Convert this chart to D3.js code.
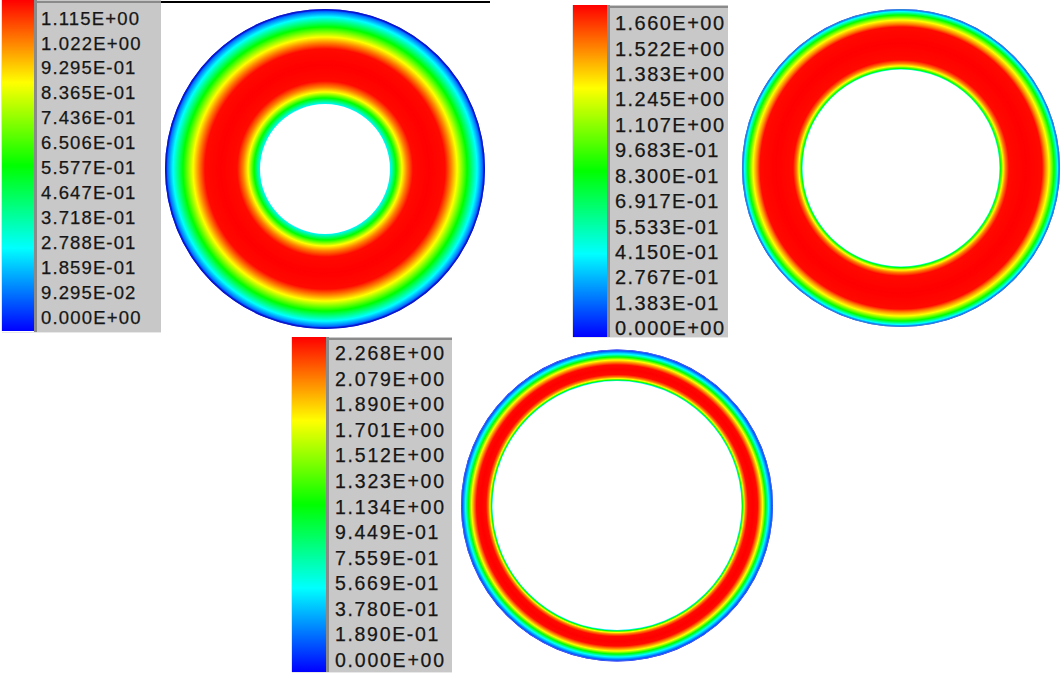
<!DOCTYPE html>
<html>
<head>
<meta charset="utf-8">
<script src="https://cdn.jsdelivr.net/npm/d3@7"></script>
<style>
  html, body { margin: 0; padding: 0; background: #ffffff; }
  svg { display: block; }
</style>
</head>
<body>
<svg id="fig" width="1062" height="675"></svg>
<script>
// ---- Legend levels (contour values printed on each colour bar) ----
const levels1 = ["1.115E+00", "1.022E+00", "9.295E-01", "8.365E-01", "7.436E-01", "6.506E-01",
                 "5.577E-01", "4.647E-01", "3.718E-01", "2.788E-01", "1.859E-01", "9.295E-02", "0.000E+00"];
const levels2 = ["1.660E+00", "1.522E+00", "1.383E+00", "1.245E+00", "1.107E+00", "9.683E-01",
                 "8.300E-01", "6.917E-01", "5.533E-01", "4.150E-01", "2.767E-01", "1.383E-01", "0.000E+00"];
const levels3 = ["2.268E+00", "2.079E+00", "1.890E+00", "1.701E+00", "1.512E+00", "1.323E+00",
                 "1.134E+00", "9.449E-01", "7.559E-01", "5.669E-01", "3.780E-01", "1.890E-01", "0.000E+00"];

// ---- Radial profiles across the annular gap ----
// xi: 0 at the inner wall, 1 at the outer wall; u: field value at that radius
const xi1 = [0.000, 0.063, 0.126, 0.179, 0.242, 0.411, 0.579, 0.642, 0.705, 0.811, 0.916, 0.968, 1.000];
const u1  = [0.268, 0.558, 0.836, 0.976, 1.104, 1.115, 1.104, 0.976, 0.836, 0.558, 0.279, 0.134, 0.000];

const xi2 = [0.000, 0.017, 0.058, 0.099, 0.157, 0.438, 0.702, 0.752, 0.818, 0.901, 0.959, 0.983, 1.000];
const u2  = [0.500, 0.830, 1.245, 1.453, 1.643, 1.660, 1.643, 1.453, 1.245, 0.830, 0.415, 0.199, 0.060];

const xi3 = [0.000, 0.032, 0.079, 0.127, 0.206, 0.365, 0.508, 0.587, 0.667, 0.762, 0.857, 0.937, 1.000];
const u3  = [0.520, 1.134, 1.701, 1.985, 2.245, 2.268, 2.245, 1.985, 1.701, 1.134, 0.567, 0.272, 0.000];

// ---- Rainbow colour map on a normalised value ----
const rainbowStops = [0, 0.25, 0.5, 0.75, 1];
const rainbow = d3.scaleLinear()
  .domain(rainbowStops)
  .range(["#0000ff", "#00ffff", "#00ff00", "#ffff00", "#ff0000"])
  .clamp(true);

// ---- Panel layout ----
// label.width: drawn width of the widest (E+00) label; others keep the same stretch
const panels = [
  { id: "p1", levels: levels1, xi: xi1, u: u1,
    bar: { x: 2, y: 0, w: 32, h: 331 }, box: { x: 34, y: 0, w: 127, h: 332 },
    label: { x: 41, top: 18, bottom: 317, size: 18.5, width: 98 },
    disk: { cx: 325, cy: 169, ri: 65, ro: 160, edge: "#0a18c0", edgeW: 1.6 } },
  { id: "p2", levels: levels2, xi: xi2, u: u2,
    bar: { x: 573, y: 5, w: 34, h: 332 }, box: { x: 607, y: 5, w: 121, h: 332 },
    label: { x: 615, top: 23, bottom: 328, size: 20, width: 109 },
    disk: { cx: 901, cy: 168, ri: 98.5, ro: 159, edge: "#3a8ed0", edgeW: 1.0 } },
  { id: "p3", levels: levels3, xi: xi3, u: u3,
    bar: { x: 292, y: 337, w: 34, h: 335 }, box: { x: 326, y: 337, w: 126, h: 335 },
    label: { x: 335, top: 353, bottom: 660, size: 19.5, width: 109 },
    disk: { cx: 617, cy: 505.5, ri: 124.5, ro: 156, edge: "#4a70f0", edgeW: 1.0 } }
];

const svg = d3.select("#fig");
const defs = svg.append("defs");

// rule across the top of the first panel
svg.append("line")
  .attr("x1", 161).attr("x2", 490).attr("y1", 2).attr("y2", 2)
  .attr("stroke", "#000").attr("stroke-width", 2.2);

panels.forEach(p => {
  const vmax = +p.levels[0];
  const norm = d3.scaleLinear().domain([0, vmax]).range([0, 1]);

  // --- colour bar ---
  const barGrad = defs.append("linearGradient")
    .attr("id", p.id + "-bar")
    .attr("x1", 0).attr("y1", 1).attr("x2", 0).attr("y2", 0);
  barGrad.selectAll("stop").data(rainbowStops).join("stop")
    .attr("offset", d => d)
    .attr("stop-color", d => rainbow(d));

  const g = svg.append("g");
  g.append("rect")
    .attr("x", p.bar.x - 1).attr("y", p.bar.y)
    .attr("width", 1).attr("height", p.bar.h)
    .attr("fill", "#e4e4e4");
  g.append("rect")
    .attr("x", p.bar.x).attr("y", p.bar.y)
    .attr("width", p.bar.w).attr("height", p.bar.h)
    .attr("fill", `url(#${p.id}-bar)`);

  // label panel with sunken border
  g.append("rect")
    .attr("x", p.box.x).attr("y", p.box.y)
    .attr("width", p.box.w).attr("height", p.box.h)
    .attr("fill", "#c8c8c8");
  g.append("rect")
    .attr("x", p.box.x).attr("y", p.box.y)
    .attr("width", 3).attr("height", p.box.h)
    .attr("fill", "#8a8a8a");
  g.append("rect")
    .attr("x", p.box.x).attr("y", p.box.y + 1)
    .attr("width", p.box.w).attr("height", 2)
    .attr("fill", "#8a8a8a");
  g.append("rect")
    .attr("x", p.bar.x).attr("y", p.box.y + p.box.h)
    .attr("width", p.box.x + p.box.w - p.bar.x).attr("height", 1)
    .attr("fill", "#e8e8e8");

  const yLab = d3.scaleLinear().domain([0, vmax]).range([p.label.bottom, p.label.top]);
  const labels = g.selectAll("text.lvl").data(p.levels).join("text")
    .attr("class", "lvl")
    .attr("x", p.label.x)
    .attr("y", d => yLab(+d))
    .attr("dy", "0.36em")
    .attr("font-family", "'Liberation Sans', Arial, sans-serif")
    .attr("font-size", p.label.size)
    .attr("fill", "#161616")
    .attr("stroke", "#161616")
    .attr("stroke-width", 0.25)
    .text(d => d);

  // stretch every label by the same factor so the widest spans label.width
  const natural = labels.nodes().map(n => n.getComputedTextLength());
  const k = p.label.width / natural[0];
  labels
    .attr("textLength", (d, i) => natural[i] * k)
    .attr("lengthAdjust", "spacing");

  // --- annular contour field ---
  const rs = d3.scaleLinear().domain([0, 1]).range([p.disk.ri, p.disk.ro]);
  const ringGrad = defs.append("radialGradient")
    .attr("id", p.id + "-ring")
    .attr("gradientUnits", "userSpaceOnUse")
    .attr("cx", 0).attr("cy", 0).attr("r", p.disk.ro);
  ringGrad.selectAll("stop").data(p.xi).join("stop")
    .attr("offset", d => rs(d) / p.disk.ro)
    .attr("stop-color", (d, i) => rainbow(norm(p.u[i])));

  const arc = d3.arc()
    .innerRadius(p.disk.ri).outerRadius(p.disk.ro)
    .startAngle(0).endAngle(2 * Math.PI);

  const dg = svg.append("g").attr("transform", `translate(${p.disk.cx},${p.disk.cy})`);
  dg.append("path")
    .attr("d", arc())
    .attr("fill", `url(#${p.id}-ring)`);
  dg.append("circle")
    .attr("r", p.disk.ro - p.disk.edgeW / 2)
    .attr("fill", "none")
    .attr("stroke", p.disk.edge)
    .attr("stroke-width", p.disk.edgeW)
    .attr("stroke-opacity", 0.85);
});
</script>
</body>
</html>
